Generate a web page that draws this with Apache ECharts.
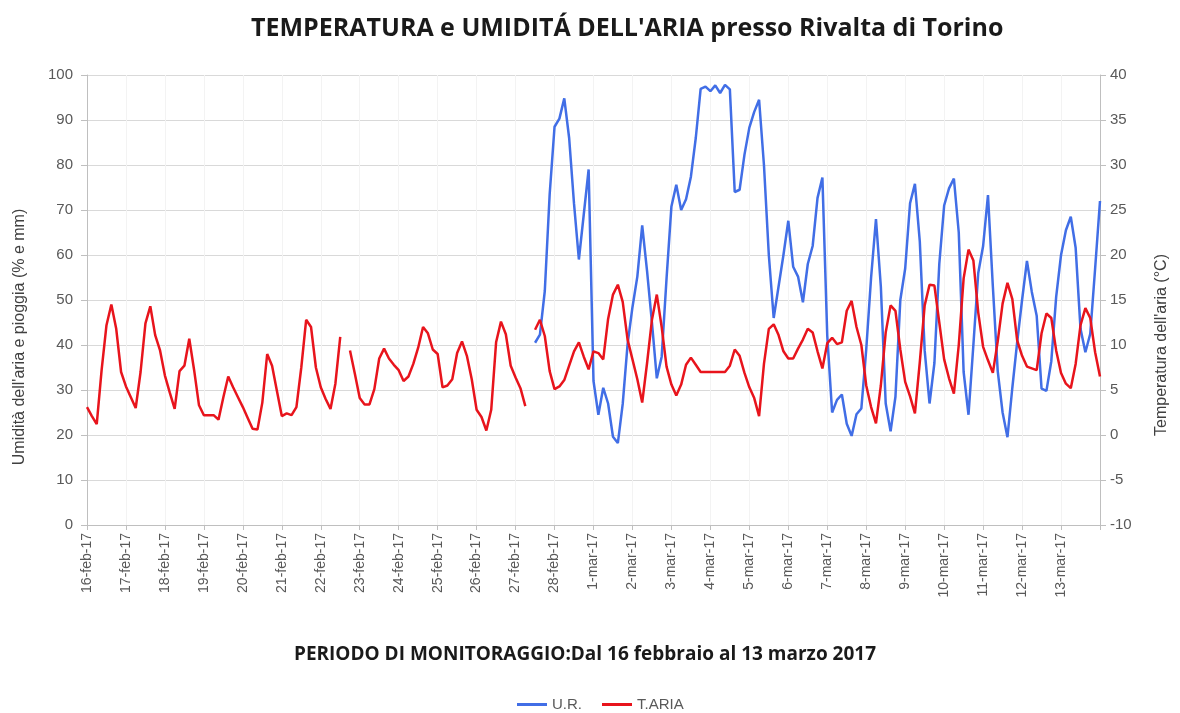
<!DOCTYPE html>
<html>
<head>
<meta charset="utf-8">
<title>Temperatura e umidità dell'aria - Rivalta di Torino</title>
<script src="https://cdn.jsdelivr.net/npm/echarts@6/dist/echarts.min.js"></script>
<style>
html, body { margin: 0; padding: 0; background: #fff; }
#chart { width: 1180px; height: 713px; }
</style>
</head>
<body>
<div id="chart"></div>
<script>
// one value every 3 hours, 8 per day, from 16-feb 00:00 to 14-mar 00:00
var stepsPerDay = 8;

var dayLabels = ['16-feb-17','17-feb-17','18-feb-17','19-feb-17','20-feb-17','21-feb-17','22-feb-17',
	'23-feb-17','24-feb-17','25-feb-17','26-feb-17','27-feb-17','28-feb-17','1-mar-17','2-mar-17',
	'3-mar-17','4-mar-17','5-mar-17','6-mar-17','7-mar-17','8-mar-17','9-mar-17','10-mar-17',
	'11-mar-17','12-mar-17','13-mar-17'];

// T.ARIA (°C)
var tempData = [
	3.1, 2.1, 1.2, 7.2, 12.2, 14.5, 11.8, 7.0,
	5.4, 4.2, 3.0, 7.0, 12.4, 14.3, 11.1, 9.4,
	6.6, 4.7, 2.9, 7.1, 7.7, 10.7, 7.2, 3.3,
	2.2, 2.2, 2.2, 1.7, 4.2, 6.5, 5.3, 4.2,
	3.1, 1.9, 0.7, 0.6, 3.6, 9.0, 7.7, 4.9,
	2.1, 2.4, 2.2, 3.1, 7.5, 12.8, 12.0, 7.5,
	5.3, 4.0, 2.9, 5.7, 10.9, null, 9.4, 6.8,
	4.1, 3.4, 3.4, 5.1, 8.5, 9.6, 8.5, 7.8,
	7.2, 6.0, 6.5, 7.9, 9.7, 12.0, 11.3, 9.5,
	9.0, 5.3, 5.5, 6.2, 9.1, 10.4, 8.8, 6.2,
	2.8, 2.0, 0.5, 2.8, 10.3, 12.6, 11.2, 7.7,
	6.4, 5.2, 3.2, null, 11.7, 12.8, 11.0, 7.1,
	5.1, 5.4, 6.1, 7.7, 9.3, 10.3, 8.7, 7.3,
	9.3, 9.1, 8.4, 12.9, 15.6, 16.7, 14.8, 10.6,
	8.4, 6.2, 3.6, 8.0, 12.8, 15.6, 12.0, 7.6,
	5.6, 4.4, 5.6, 7.8, 8.6, 7.8, 7.0, 7.0,
	7.0, 7.0, 7.0, 7.0, 7.7, 9.5, 8.8, 6.9,
	5.3, 4.1, 2.1, 7.9, 11.8, 12.3, 11.1, 9.3,
	8.5, 8.5, 9.6, 10.6, 11.8, 11.4, 9.3, 7.4,
	10.2, 10.8, 10.1, 10.3, 13.8, 14.9, 12.0, 10.0,
	5.5, 3.1, 1.3, 5.5, 11.4, 14.4, 13.8, 9.5,
	5.9, 4.3, 2.4, 8.1, 14.4, 16.7, 16.6, 12.5,
	8.4, 6.3, 4.6, 10.0, 17.4, 20.6, 19.4, 13.6,
	9.8, 8.3, 6.9, 10.4, 14.6, 16.9, 15.1, 10.5,
	8.8, 7.6, 7.4, 7.2, 11.3, 13.5, 13.0, 9.4,
	6.9, 5.7, 5.2, 7.9, 12.2, 14.1, 13.0, 9.2,
	6.5
];

// U.R. (%) - sensor starts on 27-feb
var humData = [
	null, null, null, null, null, null, null, null,
	null, null, null, null, null, null, null, null,
	null, null, null, null, null, null, null, null,
	null, null, null, null, null, null, null, null,
	null, null, null, null, null, null, null, null,
	null, null, null, null, null, null, null, null,
	null, null, null, null, null, null, null, null,
	null, null, null, null, null, null, null, null,
	null, null, null, null, null, null, null, null,
	null, null, null, null, null, null, null, null,
	null, null, null, null, null, null, null, null,
	null, null, null, null, 40.5, 42.3, 52, 73.5,
	88.5, 90.3, 94.8, 86, 71.4, 59, 69, 79,
	32, 24.5, 30.5, 27, 19.6, 18.2, 26.9, 40.2,
	48.4, 55.2, 66.6, 56.4, 45, 32.6, 37.4, 54.8,
	70.8, 75.6, 70, 72.4, 77.4, 86, 96.9, 97.4,
	96.4, 97.7, 96, 97.8, 96.8, 74, 74.5, 82.3,
	88.3, 91.8, 94.5, 80, 60, 46, 53, 60,
	67.6, 57.4, 55.2, 49.5, 58, 62, 72.7, 77.2,
	42, 25, 27.8, 29, 22.5, 19.8, 24.6, 25.9,
	39, 55, 68, 53, 27, 20.8, 28.5, 50,
	57, 71.5, 75.8, 63, 38.8, 27, 36, 58,
	71, 74.8, 77, 65, 34, 24.5, 40, 56,
	62, 73.3, 53, 34.2, 25, 19.5, 30.5, 40.7,
	50, 58.7, 51.8, 46.5, 30.3, 29.8, 36.4, 50.7,
	60, 65.5, 68.5, 61.6, 43.6, 38.4, 42.5, 57,
	72
];

var categories = [];
for (var i = 0; i < tempData.length; i++) {
	var d = i / stepsPerDay;
	categories.push(i % stepsPerDay === 0 && dayLabels[d] ? dayLabels[d] : '');
}

var txtFont = 'Liberation Sans';
var headFont = 'Open Sans';
var myChart = echarts.init(document.getElementById('chart'));
var option = {
	backgroundColor: '#fff',
	animation: false,
	title: {
		text: "TEMPERATURA e UMIDITÁ DELL'ARIA presso Rivalta di Torino",
		left: 246,
		top: 11,
		textStyle: { fontFamily: headFont, fontSize: 25, fontWeight: 'bold', color: '#1a1a1a' }
	},
	legend: {
		left: 512,
		top: 692,
		icon: 'rect',
		itemWidth: 30,
		itemHeight: 3,
		itemGap: 20,
		textStyle: { fontFamily: txtFont, fontSize: 15, color: '#595959' },
		data: ['U.R.', 'T.ARIA']
	},
	grid: { left: 87, right: 80, top: 75, bottom: 188 },
	xAxis: {
		type: 'category',
		data: categories,
		boundaryGap: false,
		axisLine: { lineStyle: { color: '#bfbfbf', width: 1 } },
		axisTick: { interval: stepsPerDay - 1, length: 5, lineStyle: { color: '#bfbfbf' } },
		axisLabel: { interval: stepsPerDay - 1, rotate: 90, margin: 8,
			fontFamily: txtFont, fontSize: 14, color: '#595959' },
		splitLine: { show: true, interval: stepsPerDay - 1, lineStyle: { color: '#f3f3f3', width: 1 } }
	},
	yAxis: [
		{
			type: 'value',
			min: 0, max: 100, interval: 10,
			axisLine: { show: true, lineStyle: { color: '#bfbfbf' } },
			axisTick: { show: true, length: 6, lineStyle: { color: '#bfbfbf' } },
			axisLabel: { fontFamily: txtFont, fontSize: 15, color: '#595959', margin: 14 },
			splitLine: { lineStyle: { color: '#d9d9d9', width: 1 } }
		},
		{
			type: 'value',
			min: -10, max: 40, interval: 5,
			position: 'right',
			axisLine: { show: true, lineStyle: { color: '#bfbfbf' } },
			axisTick: { show: true, length: 6, lineStyle: { color: '#bfbfbf' } },
			axisLabel: { fontFamily: txtFont, fontSize: 15, color: '#595959', margin: 10 },
			splitLine: { show: false }
		}
	],
	graphic: [
		{
			type: 'text', x: 20, y: 337, rotation: Math.PI / 2,
			style: { text: "Umidità dell'aria e pioggia (% e mm)", font: '16px ' + txtFont,
				fill: '#404040', align: 'center', verticalAlign: 'middle' }
		},
		{
			type: 'text', x: 1162, y: 345, rotation: Math.PI / 2,
			style: { text: "Temperatura dell'aria (°C)", font: '16px ' + txtFont,
				fill: '#404040', align: 'center', verticalAlign: 'middle' }
		},
		{
			type: 'text', x: 585, y: 655,
			style: { text: 'PERIODO DI MONITORAGGIO:Dal 16 febbraio al 13 marzo 2017',
				font: 'bold 19px "' + headFont + '"', fill: '#1a1a1a', align: 'center', verticalAlign: 'middle' }
		}
	],
	series: [
		{
			name: 'U.R.',
			type: 'line',
			yAxisIndex: 0,
			data: humData,
			showSymbol: false,
			connectNulls: false,
			lineStyle: { color: '#416ee6', width: 2.5 },
			itemStyle: { color: '#416ee6' }
		},
		{
			name: 'T.ARIA',
			type: 'line',
			yAxisIndex: 1,
			data: tempData,
			showSymbol: false,
			connectNulls: false,
			lineStyle: { color: '#e8141c', width: 2.5 },
			itemStyle: { color: '#e8141c' }
		}
	]
};
myChart.setOption(option);
</script>
</body>
</html>
